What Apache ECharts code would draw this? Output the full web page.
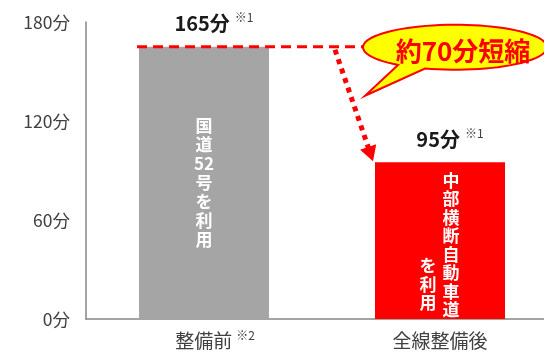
<!DOCTYPE html>
<html><head><meta charset="utf-8">
<script src="https://cdn.jsdelivr.net/npm/echarts@6/dist/echarts.min.js"></script>
<style>html,body{margin:0;padding:0;background:#fff}#c{width:544px;height:352px}</style>
</head><body><div id="c"></div>
<script>
// ---- data ----
const categories = ['整備前', '全線整備後'];
const categoryNotes = ['※2', ''];
const values = [165, 95];
const valueNotes = ['※1', '※1'];
const barColors = ['#A5A5A5', '#FF0000'];
const innerMain = [['国', '道', '52', '号', 'を', '利', '用'], ['中', '部', '横', '断', '自', '動', '車', '道']];
const innerSub = [[], ['を', '利', '用']];
const yTicks = [0, 60, 120, 180];
const yUnit = '分';
const calloutText = '約70分短縮';

// ---- chart ----
const FONT = '"Noto Sans CJK JP", "Noto Sans", sans-serif';
const chart = echarts.init(document.getElementById('c'), null, { renderer: 'canvas' });
const BW = 130;

const option = {
  animation: false,
  textStyle: { fontFamily: FONT },
  grid: { left: 86, top: 22, width: 472, height: 297, containLabel: false, outerBoundsMode: 'none' },
  xAxis: {
    type: 'category',
    data: categories,
    axisLine: { lineStyle: { color: '#868686', width: 1.5 } },
    axisTick: { show: false },
    axisLabel: {
      margin: 10,
      interval: 0,
      formatter: (v, i) => categoryNotes[i] ? `{cp|${v}}{n|${categoryNotes[i]}}` : `{c|${v}}`,
      rich: {
        c: { fontSize: 19, color: '#404040', fontFamily: FONT, lineHeight: 24 },
        cp: { fontSize: 19, color: '#404040', fontFamily: FONT, lineHeight: 24, padding: [0, 0, 0, 22] },
        n: { fontSize: 12, color: '#404040', fontFamily: FONT, verticalAlign: 'top', lineHeight: 13, padding: [0, 0, 0, 4] }
      }
    }
  },
  yAxis: {
    type: 'value',
    min: yTicks[0],
    max: yTicks[yTicks.length - 1],
    interval: yTicks[1] - yTicks[0],
    axisLine: { show: true, lineStyle: { color: '#868686', width: 1.5 } },
    axisTick: { show: false },
    splitLine: { show: false },
    axisLabel: { formatter: v => v + yUnit, fontSize: 17.5, color: '#404040', margin: 16, fontFamily: FONT }
  },
  series: [
    {
      type: 'bar', barWidth: BW, barGap: '-100%', silent: true,
      data: values.map((v, i) => ({
        value: v,
        itemStyle: { color: barColors[i] },
        label: i === 0 ? { position: 'inside', lineHeight: 19 } : { position: 'insideTop', distance: 9, offset: [11, 0], lineHeight: 18.5 }
      })),
      label: {
        show: true, color: '#fff', fontSize: 17, fontWeight: 'bold', fontFamily: FONT, align: 'center',
        formatter: p => innerMain[p.dataIndex].join('\n')
      }
    },
    {
      type: 'bar', barWidth: BW, barGap: '-100%', silent: true,
      data: values,
      itemStyle: { color: 'rgba(0,0,0,0)' },
      label: {
        show: true, position: 'top', distance: 11, offset: [10, 0],
        formatter: p => `{v|${values[p.dataIndex]}${yUnit}}{n|${valueNotes[p.dataIndex]}}`,
        rich: {
          v: { fontSize: 20, fontWeight: 'bold', color: '#1a1a1a', fontFamily: FONT, lineHeight: 24 },
          n: { fontSize: 12, color: '#404040', fontFamily: FONT, verticalAlign: 'top', lineHeight: 13, padding: [0, 0, 0, 5] }
        }
      }
    },
    {
      type: 'bar', barWidth: BW, barGap: '-100%', silent: true,
      data: values,
      itemStyle: { color: 'rgba(0,0,0,0)' },
      label: {
        show: true, position: 'insideBottom', distance: 7, offset: [-12, 0],
        color: '#fff', fontSize: 17, fontWeight: 'bold', fontFamily: FONT, lineHeight: 18.5, align: 'center',
        formatter: p => innerSub[p.dataIndex].join('\n')
      }
    }
  ]
};
chart.setOption(option);

// ---- annotations derived from the axes ----
const p0 = chart.convertToPixel({ xAxisIndex: 0, yAxisIndex: 0 }, [0, values[0]]);
const p1 = chart.convertToPixel({ xAxisIndex: 0, yAxisIndex: 0 }, [1, values[1]]);
const barLeft0 = p0[0] - BW / 2;
const barLeft1 = p1[0] - BW / 2;
const yRef = p0[1];

// speech bubble
const cx = 455, cy = yRef + 0.5, rx = 92, ry = 22.5;
const tip = [365, yRef + 49];
const bxR = 425, bxL = 398;
const tR = Math.acos((bxR - cx) / rx);
const tL = Math.acos((bxL - cx) / rx);
const pts = [[cx + rx * Math.cos(tL), cy + ry * Math.sin(tL)], tip];
const steps = 80;
const tEnd = tL - 2 * Math.PI;
for (let k = 0; k <= steps; k++) {
  const t = tR + (tEnd - tR) * k / steps;
  pts.push([cx + rx * Math.cos(t), cy + ry * Math.sin(t)]);
}

// dotted arrow
const aStart = [335, yRef + 3];
const aTip = [barLeft1 - 2, p1[1] - 1];
const dx = aTip[0] - aStart[0], dy = aTip[1] - aStart[1];
const len = Math.hypot(dx, dy);
const ux = dx / len, uy = dy / len;
const headLen = 15, headW = 8.5;
const bc = [aTip[0] - ux * headLen, aTip[1] - uy * headLen];
const lineEnd = [aTip[0] - ux * (headLen - 2), aTip[1] - uy * (headLen - 2)];

chart.setOption({
  graphic: [
    { type: 'line', silent: true, z: 10,
      shape: { x1: barLeft0 - 2, y1: yRef, x2: cx - rx + 2, y2: yRef },
      style: { stroke: '#FF0000', lineWidth: 3, lineDash: [10, 6] } },
    { type: 'line', silent: true, z: 10,
      shape: { x1: aStart[0], y1: aStart[1], x2: lineEnd[0], y2: lineEnd[1] },
      style: { stroke: '#FF0000', lineWidth: 5, lineDash: [5, 5] } },
    { type: 'polygon', silent: true, z: 10,
      shape: { points: [aTip, [bc[0] + uy * headW, bc[1] - ux * headW], [bc[0] - uy * headW, bc[1] + ux * headW]] },
      style: { fill: '#FF0000' } },
    { type: 'polygon', silent: true, z: 11,
      shape: { points: pts },
      style: { fill: '#FFFF00', stroke: '#FF0000', lineWidth: 2 } },
    { type: 'text', silent: true, z: 12, x: 463, y: cy + 4,
      style: { text: calloutText, fill: '#FF0000', font: 'bold 26px ' + FONT,
               textAlign: 'center', textVerticalAlign: 'middle', align: 'center', verticalAlign: 'middle' } }
  ]
});
</script>
</body></html>
